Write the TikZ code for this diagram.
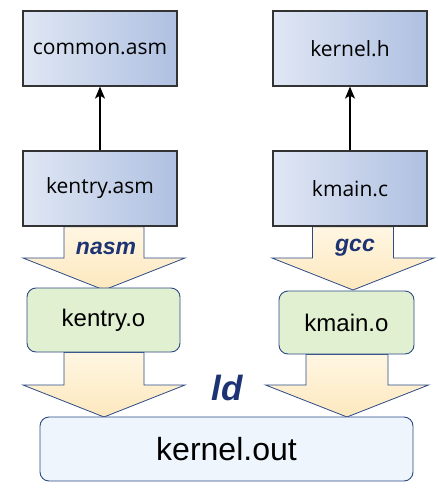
\documentclass[tikz,border=0pt]{standalone}
\usepackage{fontspec}
\setmainfont{Liberation Sans}
\newfontfamily\srcfont{Open Sans}
\usetikzlibrary{calc,backgrounds,arrows.meta}

\definecolor{srcleft}{HTML}{E0E7F4}
\definecolor{srcright}{HTML}{AFC0E1}
\definecolor{objfill}{HTML}{E2F0D2}
\definecolor{outfill}{HTML}{EEF5FC}
\definecolor{frameblue}{HTML}{2C4A86}
\definecolor{toolblue}{HTML}{1D3373}
\definecolor{arrowtop}{HTML}{FFF6E2}
\definecolor{arrowfill}{HTML}{FDE8BE}

\tikzset{
  srcbox/.style={draw=black!80, line width=1.2pt, left color=srcleft, right color=srcright,
    minimum width=154pt, minimum height=75pt, font=\srcfont\fontsize{21}{22}\selectfont},
  objbox/.style={draw=frameblue, line width=0.9pt, fill=objfill, rounded corners=9pt,
    font=\fontsize{24}{26}\selectfont},
  outbox/.style={draw=frameblue, line width=0.9pt, fill=outfill, rounded corners=9pt,
    font=\fontsize{32}{34}\selectfont},
  fatarrow/.style={draw=frameblue, line width=0.8pt, top color=arrowtop, bottom color=arrowfill},
  toollabel/.style={text=toolblue, font=\bfseries\itshape\fontsize{23}{24}\selectfont},
  include/.style={-{Stealth[length=12pt,width=10pt,inset=3pt]}, line width=1.3pt}
}

% #1 box above, #2 tip point, #3 shaft half width, #4 head half width
\newcommand{\fatstep}[4]{
  \draw[fatarrow] ($(#2 |- #1)+(-#3,0)$) -- ($(#2)+(-#3,32)$) -- ($(#2)+(-#4,32)$) -- (#2)
    -- ($(#2)+(#4,32)$) -- ($(#2)+(#3,32)$) -- ($(#2 |- #1)+(#3,0)$) -- cycle;
}

\begin{document}
\begin{tikzpicture}[x=1pt,y=1pt]
		\useasboundingbox (0,0) rectangle (438,-501);
		\node[srcbox] (commonasm) at (100,-48.5) {common.asm};
		\node[srcbox] (kernelh) at (350,-48.5) {kernel.h};
		\node[srcbox] (kentryasm) at (100,-188.5) {kentry.asm};
		\node[srcbox] (kmainc) at (350,-188.5) {kmain.c};
		\node[objbox, minimum width=153pt, minimum height=64pt] (kentryo) at (103.5,-320) {kentry.o};
		\node[objbox, minimum width=135pt, minimum height=63pt] (kmaino) at (346.5,-322.5) {kmain.o};
		\node[outbox, minimum width=373pt, minimum height=64pt] (kernelout) at (226.5,-449) {kernel.out};
		\coordinate (nasmtip) at (104,-290);
		\coordinate (gcctip) at (353,-290);
		\coordinate (ldlefttip) at (104,-417);
		\coordinate (ldrighttip) at (347,-417);
		\begin{scope}[on background layer]
		\fatstep{kentryasm.south}{nasmtip}{40}{81}
		\fatstep{kmainc.south}{gcctip}{40.5}{81}
		\fatstep{kentryo.south}{ldlefttip}{40}{81}
		\fatstep{kmaino.south}{ldrighttip}{41}{81.5}
		\end{scope}
		\draw[include] (kentryasm) -- (commonasm);
		\draw[include] (kmainc) -- (kernelh);
		\node[toollabel] (nasm) at (106,-248) {nasm};
		\node[toollabel] (gcc) at (355,-248) {gcc};
		\node[toollabel, font=\bfseries\itshape\fontsize{35}{36}\selectfont] (ld) at (227,-388) {ld};
	\end{tikzpicture}
\end{document}
